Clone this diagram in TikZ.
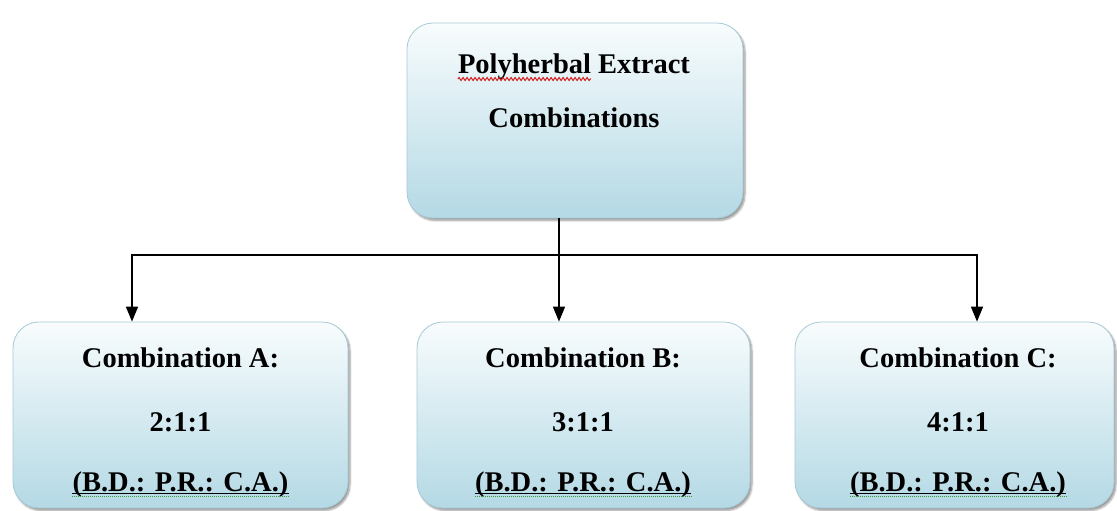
\documentclass[tikz,border=0pt]{standalone}
\usepackage{fontspec}
\setmainfont{Liberation Serif}
\usetikzlibrary{arrows.meta,shadows.blur,calc,decorations.pathmorphing}
\definecolor{boxtop}{HTML}{F8FCFD}
\definecolor{boxbot}{HTML}{B4D9E5}
\definecolor{boxline}{HTML}{A6CAD6}
\definecolor{spellgreen}{HTML}{3C9A3C}
\definecolor{spellred}{HTML}{D02020}
\newlength\polyw
\newcommand\boxfont{\fontsize{28.5}{30}\selectfont\bfseries}
\begin{document}
\settowidth{\polyw}{\boxfont Polyherbal}%
\begin{tikzpicture}[x=1pt,y=-1pt,
  box/.style={draw=boxline, line width=0.8pt, rounded corners=26pt,
    top color=boxtop, bottom color=boxbot,
    blur shadow={shadow xshift=2pt, shadow yshift=-2.5pt, shadow blur steps=6, shadow opacity=40}},
  txt/.style={font=\boxfont, inner sep=0pt, anchor=base},
  conn/.style={line width=1.6pt, black},
  arr/.style={conn, -{Triangle[width=12pt,length=15pt]}},
  uline/.style={line width=1.2pt, black},
  greendots/.style={spellgreen, line width=1pt, dash pattern=on 1pt off 1pt},
  redwave/.style={spellred, line width=1pt, decoration={snake, amplitude=1.5pt, segment length=4pt}, decorate}]
\useasboundingbox (0,0) rectangle (1117,511);

% boxes
\node[box, minimum width=336pt, minimum height=195pt] (top) at (575,120.5) {};
\node[box, minimum width=335pt, minimum height=186pt] (boxA) at (180.5,415) {};
\node[box, minimum width=333pt, minimum height=186pt] (boxB) at (583.5,415) {};
\node[box, minimum width=319pt, minimum height=186pt] (boxC) at (954.5,415) {};

% texts
\node[txt] (t0a) at (574,74) {Polyherbal Extract};
\node[txt] (t0b) at (574,127) {Combinations};

\node[txt] (tA1) at (180.5,367) {Combination A:};
\node[txt] (tA2) at (180.5,431) {2:1:1};
\node[txt] (tA3) at (180.5,491) {(B.D.: P.R.: C.A.)};

\node[txt] (tB1) at (583,367) {Combination B:};
\node[txt] (tB2) at (583,431) {3:1:1};
\node[txt] (tB3) at (583,491) {(B.D.: P.R.: C.A.)};

\node[txt] (tC1) at (958,367) {Combination C:};
\node[txt] (tC2) at (958,431) {4:1:1};
\node[txt] (tC3) at (958,491) {(B.D.: P.R.: C.A.)};

% spell-check marks and underlines
\coordinate (w0) at ($(t0a.base west)+(0,5)$);
\coordinate (w1) at ($(w0)+(\polyw,0pt)$);
\draw[redwave] (w0) -- (w1);
\foreach \t in {tA3,tB3,tC3}{
  \draw[uline] ($(\t.base west)+(0,2.5)$) -- ($(\t.base east)+(0,2.5)$);
  \draw[greendots] ($(\t.base west)+(0,5)$) -- ($(\t.base east)+(0,5)$);
}

% connectors
\coordinate (jA) at (132,255);
\coordinate (jB) at (559,255);
\coordinate (jC) at (977,255);
\draw[arr] (top.south -| jB) -- (jB |- boxB.north);
\draw[arr] (jB) -- (jA) -- (jA |- boxA.north);
\draw[arr] (jB) -- (jC) -- (jC |- boxC.north);
\end{tikzpicture}
\end{document}
